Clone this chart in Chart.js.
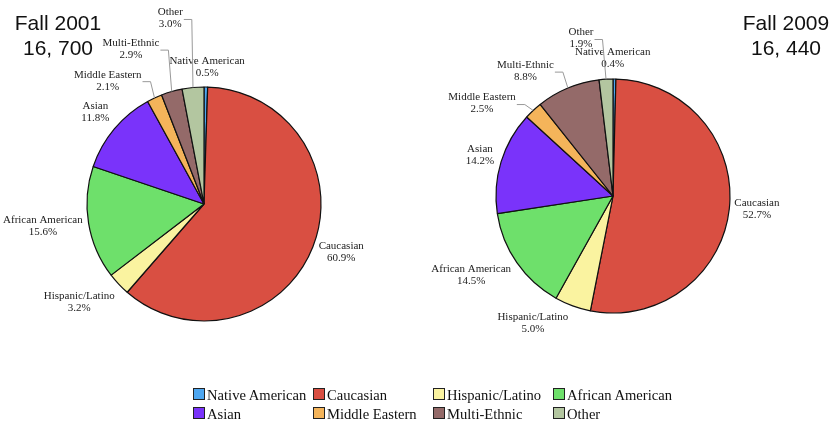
<!DOCTYPE html>
<html>
<head>
<meta charset="utf-8">
<script src="https://cdn.jsdelivr.net/npm/chart.js@4/dist/chart.umd.min.js"></script>
<style>
  html, body { margin: 0; padding: 0; background: #fff; }
  #wrap { position: relative; width: 832px; height: 421px; overflow: hidden; }
  canvas { position: absolute; left: 0; top: 0; }
  .title { position: absolute; top: 10px; font-family: "Liberation Sans", Arial, sans-serif; font-size: 21px; line-height: 25px; text-align: center; color: #111; }
  .legend-item { position: absolute; font-family: "Liberation Serif", "Times New Roman", serif; font-size: 14.6px; line-height: 19px; color: #111; white-space: nowrap; padding-left: 14px; }
  .legend-box { position: absolute; left: 0; top: 2.5px; width: 10px; height: 10px; border: 1px solid #222; }
</style>
</head>
<body>
<div id="wrap">
  <canvas id="pie2001" width="832" height="421"></canvas>
  <canvas id="pie2009" width="832" height="421"></canvas>
  <div class="title" id="title2001" style="left:0;width:116px"></div>
  <div class="title" id="title2009" style="left:740px;width:92px"></div>
  <div id="legend"></div>
</div>
<script>
const categories = ['Native American', 'Caucasian', 'Hispanic/Latino', 'African American',
                    'Asian', 'Middle Eastern', 'Multi-Ethnic', 'Other'];
const values2001 = [0.5, 60.9, 3.2, 15.6, 11.8, 2.1, 2.9, 3.0];
const values2009 = [0.4, 52.7, 5.0, 14.5, 14.2, 2.5, 8.8, 1.9];
const title2001 = ['Fall 2001', '16, 700'];
const title2009 = ['Fall 2009', '16, 440'];

const colors = ['#4da6f0', '#d94f42', '#faf3a0', '#6ee06b', '#7a33fa', '#f4b45a', '#946a69', '#b3c6a0'];

// label nudges (px) from the automatic outside position, and which get a leader line
const offsets2001 = [[1, -2], [0, -6], [-11, -9], [0, -4], [-1, -1.5], [-34, 10], [-34, -19], [-21, -51]];
const offsets2009 = [[-2, -3], [-1, -2.5], [-30, -9], [-9, -12.5], [0, 0], [-26, 20], [-32, 8], [-24, -23]];
const leaders = [false, false, false, false, false, true, true, true];

const sliceLabels = {
  id: 'sliceLabels',
  afterDatasetsDraw(chart, args, opts) {
    const ctx = chart.ctx;
    const meta = chart.getDatasetMeta(0);
    const data = chart.data.datasets[0].data;
    ctx.save();
    ctx.font = '11px "Liberation Serif", "Times New Roman", serif';
    ctx.textAlign = 'center';
    ctx.textBaseline = 'middle';
    meta.data.forEach((arc, i) => {
      const { x, y, startAngle, endAngle, outerRadius } =
        arc.getProps(['x', 'y', 'startAngle', 'endAngle', 'outerRadius'], true);
      const mid = (startAngle + endAngle) / 2;
      const cx = Math.cos(mid), cy = Math.sin(mid);
      const name = chart.data.labels[i];
      const pct = data[i].toFixed(1) + '%';
      const halfW = Math.max(ctx.measureText(name).width, ctx.measureText(pct).width) / 2;
      const d = outerRadius + 5 + halfW * Math.abs(cx) + 12 * Math.abs(cy);
      const lx = x + d * cx + opts.offsets[i][0];
      const ly = y + d * cy + opts.offsets[i][1];

      if (opts.leaders[i]) {
        ctx.strokeStyle = '#999';
        ctx.lineWidth = 1;
        ctx.beginPath();
        ctx.moveTo(lx + halfW + 1, ly + 1);
        ctx.lineTo(lx + halfW + 9, ly + 1);
        ctx.lineTo(x + outerRadius * cx, y + outerRadius * cy);
        ctx.stroke();
      }
      ctx.fillStyle = '#222';
      ctx.fillText(name, lx, ly - 6);
      ctx.fillText(pct, lx, ly + 6);
    });
    ctx.restore();
  }
};

function makePie(id, values, padding, offsets) {
  return new Chart(document.getElementById(id), {
    type: 'pie',
    data: {
      labels: categories,
      datasets: [{
        data: values,
        backgroundColor: colors,
        borderColor: '#111',
        borderWidth: 1.2,
        hoverOffset: 0
      }]
    },
    options: {
      responsive: false,
      animation: false,
      events: [],
      radius: 117,
      layout: { padding: padding },
      plugins: {
        legend: { display: false },
        tooltip: { enabled: false },
        sliceLabels: { offsets: offsets, leaders: leaders }
      }
    },
    plugins: [sliceLabels]
  });
}

makePie('pie2001', values2001, { left: 87, top: 87, right: 511, bottom: 100 }, offsets2001);
makePie('pie2009', values2009, { left: 496, top: 79, right: 102, bottom: 108 }, offsets2009);

document.getElementById('title2001').innerHTML = title2001.join('<br>');
document.getElementById('title2009').innerHTML = title2009.join('<br>');

// legend: 4 columns x 2 rows
const legend = document.getElementById('legend');
categories.forEach((name, i) => {
  const item = document.createElement('div');
  item.className = 'legend-item';
  item.style.left = (193 + (i % 4) * 120) + 'px';
  item.style.top = (385.6 + Math.floor(i / 4) * 19) + 'px';
  const box = document.createElement('span');
  box.className = 'legend-box';
  box.style.background = colors[i];
  item.appendChild(box);
  item.appendChild(document.createTextNode(name));
  legend.appendChild(item);
});
</script>
</body>
</html>
